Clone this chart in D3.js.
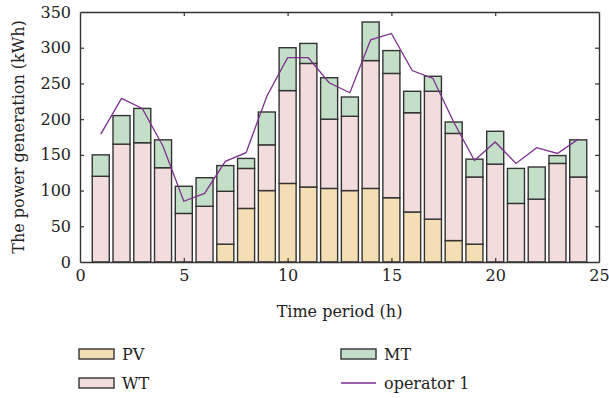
<!DOCTYPE html>
<html>
<head>
<meta charset="utf-8">
<script src="https://cdn.jsdelivr.net/npm/d3@7"></script>
<style>
  body { margin: 0; background: #fff; }
</style>
</head>
<body>
<svg id="chart" width="609" height="398"></svg>
<script>
// data
const hours = d3.range(1, 25);
const pv = [0, 0, 0, 0, 0, 0, 25, 75, 100, 110, 105, 103, 100, 103, 90, 70, 60, 30, 25, 0, 0, 0, 0, 0];
const wt = [120, 165, 167, 132, 68, 78, 74, 56, 64, 130, 173, 97, 104, 179, 174, 139, 179, 150, 94, 137, 82, 88, 138, 119];
const mt = [30, 40, 48, 39, 38, 40, 36, 14, 46, 60, 28, 58, 27, 54, 32, 30, 21, 16, 25, 46, 49, 45, 11, 52];
const operator1 = [179, 229, 215, 162, 85, 96, 141, 153, 232, 286, 286, 251, 237, 311, 320, 268, 257, 196, 142, 168, 138, 160, 152, 172];
const xTicks = [0, 5, 10, 15, 20, 25];
const yTicks = [0, 50, 100, 150, 200, 250, 300, 350];

const keys = ['PV', 'WT', 'MT'];
const colors = { PV: '#f5deb3', WT: '#f2dcdc', MT: '#c4dfc8' };
const LINE_COLOR = '#7e2f8e';
const FONT = '"DejaVu Serif", serif';
const FS = 16;

const margin = { left: 80, right: 10, top: 12, bottom: 136 };
const W = 609, H = 398;
const x0 = margin.left, x1 = W - margin.right, y0 = H - margin.bottom, y1 = margin.top;

const svg = d3.select('#chart');

const x = d3.scaleLinear().domain([0, 25]).range([x0, x1]);
const y = d3.scaleLinear().domain([0, 350]).range([y0, y1]);

// stacked table
const table = hours.map((h, i) => ({ h: h, PV: pv[i], WT: wt[i], MT: mt[i] }));
const series = d3.stack().keys(keys)(table);

const barW = (x(1) - x(0)) * 0.82;

svg.append('g').selectAll('g').data(series).enter().append('g')
    .attr('fill', d => colors[d.key])
    .selectAll('rect').data(d => d.filter(s => s[1] - s[0] > 0)).enter().append('rect')
    .attr('x', d => x(d.data.h) - barW / 2)
    .attr('width', barW)
    .attr('y', d => y(d[1]))
    .attr('height', d => y(d[0]) - y(d[1]))
    .attr('stroke', '#333')
    .attr('stroke-width', 1.4);

// operator 1 line
const line = d3.line().x((d, i) => x(hours[i])).y(d => y(d));
svg.append('path').datum(operator1)
    .attr('d', line)
    .attr('fill', 'none')
    .attr('stroke', LINE_COLOR)
    .attr('stroke-width', 1.3);

// axes box
const axisColor = '#333';
const fmt = d3.format('d');
const axB = svg.append('g').attr('transform', `translate(0,${y0})`)
    .call(d3.axisBottom(x).tickValues(xTicks).tickSizeInner(-4).tickSizeOuter(0).tickPadding(8).tickFormat(fmt));
const axT = svg.append('g').attr('transform', `translate(0,${y1})`)
    .call(d3.axisTop(x).tickValues(xTicks).tickSizeInner(-4).tickSizeOuter(0).tickFormat(''));
const axL = svg.append('g').attr('transform', `translate(${x0},0)`)
    .call(d3.axisLeft(y).tickValues(yTicks).tickSizeInner(-4).tickSizeOuter(0).tickPadding(9).tickFormat(fmt));
const axR = svg.append('g').attr('transform', `translate(${x1},0)`)
    .call(d3.axisRight(y).tickValues(yTicks).tickSizeInner(-4).tickSizeOuter(0).tickFormat(''));

[axB, axT, axL, axR].forEach(g => {
    g.attr('font-family', FONT).attr('font-size', FS);
    g.select('.domain').attr('stroke', axisColor).attr('stroke-width', 1.4);
    g.selectAll('.tick line').attr('stroke', axisColor).attr('stroke-width', 1.2);
    g.selectAll('text').attr('fill', '#222');
});
// skip ticks at the corners
axB.selectAll('.tick line').filter(d => d === 0 || d === 25).remove();
axT.selectAll('.tick line').filter(d => d === 0 || d === 25).remove();
axL.selectAll('.tick line').filter(d => d === 0 || d === 350).remove();
axR.selectAll('.tick line').filter(d => d === 0 || d === 350).remove();

// axis titles
svg.append('text')
    .attr('x', (x0 + x1) / 2).attr('y', 317)
    .attr('text-anchor', 'middle')
    .attr('font-family', FONT).attr('font-size', FS).attr('fill', '#222')
    .text('Time period (h)');
svg.append('text')
    .attr('transform', `translate(24,${(y0 + y1) / 2}) rotate(-90)`)
    .attr('text-anchor', 'middle')
    .attr('font-family', FONT).attr('font-size', FS).attr('fill', '#222')
    .text('The power generation (kWh)');

// legend
const legendItems = [
    { name: 'PV', type: 'rect', col: 0, row: 0 },
    { name: 'WT', type: 'rect', col: 0, row: 1 },
    { name: 'MT', type: 'rect', col: 1, row: 0 },
    { name: 'operator 1', type: 'line', col: 1, row: 1 }
];
const legX = [79, 341], legY = [354, 383];
const lg = svg.append('g').selectAll('g').data(legendItems).enter().append('g')
    .attr('transform', d => `translate(${legX[d.col]},${legY[d.row]})`);
lg.filter(d => d.type === 'rect').append('rect')
    .attr('x', 0).attr('y', -5).attr('width', 35).attr('height', 10)
    .attr('fill', d => colors[d.name]).attr('stroke', '#333').attr('stroke-width', 1.4);
lg.filter(d => d.type === 'line').append('line')
    .attr('x1', 0).attr('x2', 35).attr('y1', 0).attr('y2', 0)
    .attr('stroke', LINE_COLOR).attr('stroke-width', 1.3);
lg.append('text')
    .attr('x', 43).attr('y', 6)
    .attr('font-family', FONT).attr('font-size', FS).attr('fill', '#222')
    .text(d => d.name);
</script>
</body>
</html>
